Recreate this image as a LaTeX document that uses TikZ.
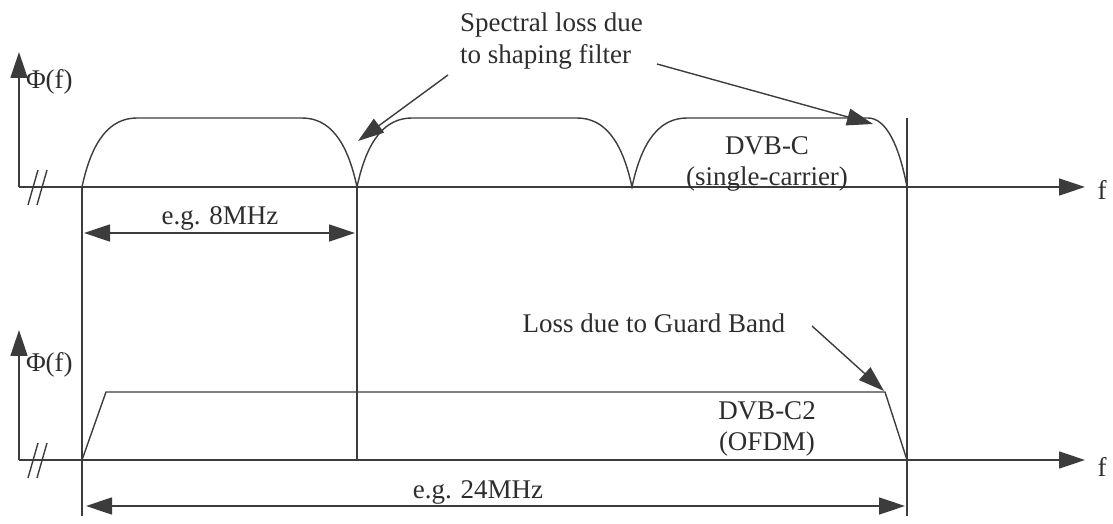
\documentclass[tikz,border=0pt]{standalone}
\usepackage{fontspec}
\setmainfont{Liberation Serif}
\usetikzlibrary{arrows.meta}
\definecolor{pdfcolor1}{RGB}{60,60,60}
\definecolor{pdfcolor2}{RGB}{45,45,45}
\tikzset{
  ln/.style={draw=pdfcolor1,line width=1.4bp},
  bigtip/.style={-{Triangle[length=26bp,width=17bp]}},
  bitip/.style={{Triangle[length=26bp,width=17bp]}-{Triangle[length=26bp,width=17bp]}},
  lbl/.style={font=\fontsize{27bp}{31bp}\selectfont,text=pdfcolor2}
}
\begin{document}
\begin{tikzpicture}[x=1bp,y=-1bp,inner sep=0pt,outer sep=0pt]
  \useasboundingbox (0,0) rectangle (1113,524);
  % upper plot: DVB-C
  \coordinate (o1) at (19,187);
  \coordinate (ytop1) at (19,52);
  \coordinate (xend1) at (1085,187);
  \draw[ln,bigtip] (o1) -- (ytop1);
  \draw[ln,bigtip] (o1) -- (xend1);
  \node[lbl,anchor=west] (phi1) at (26,82) {Φ(f)};
  \node[lbl] (f1) at (1102,190) {f};
  \draw[ln] (28,205) -- (38,170) (37,205) -- (47,170);
  \draw[ln] (82,187) .. controls (92,140) and (110,118) .. (137,118) -- (302,118)
    .. controls (329,118) and (347,140) .. (357,187)
    .. controls (367,140) and (385,118) .. (412,118) -- (577,118)
    .. controls (604,118) and (622,140) .. (632,187)
    .. controls (642,140) and (660,118) .. (687,118) -- (868,118)
    .. controls (886,118) and (899,145) .. (907,187);
  \node[lbl,align=center] (dvbc) at (767,164) {DVB-C\\(single-carrier)};
  % guide lines
  \coordinate (v1t) at (82,187);
  \coordinate (v1b) at (82,516);
  \coordinate (v2t) at (357,187);
  \coordinate (v2b) at (357,460);
  \coordinate (v3t) at (907,118);
  \coordinate (v3b) at (907,516);
  \draw[ln] (v1t) -- (v1b) (v2t) -- (v2b) (v3t) -- (v3b);
  % annotation
  \node[lbl,anchor=west,align=left,font=\fontsize{27bp}{32bp}\selectfont] (note1) at (460,41) {Spectral loss due\\to shaping filter};
  \coordinate (n1s) at (448,75);
  \coordinate (n1e) at (358,141);
  \coordinate (n2s) at (657,64);
  \coordinate (n2e) at (873,124);
  \draw[ln,bigtip] (n1s) -- (n1e);
  \draw[ln,bigtip] (n2s) -- (n2e);
  % 8MHz
  \coordinate (d1a) at (84,233);
  \coordinate (d1b) at (355,233);
  \draw[ln,bitip] (d1a) -- (d1b);
  \node[lbl] (w8) at (220,218) {e.g. 8MHz};
  % lower plot: DVB-C2
  \coordinate (o2) at (19,460);
  \coordinate (ytop2) at (19,330);
  \coordinate (xend2) at (1085,460);
  \draw[ln,bigtip] (o2) -- (ytop2);
  \draw[ln,bigtip] (o2) -- (xend2);
  \node[lbl,anchor=west] (phi2) at (26,365) {Φ(f)};
  \node[lbl] (f2) at (1102,467) {f};
  \draw[ln] (28,478) -- (38,443) (37,478) -- (47,443);
  \draw[ln] (82,460) -- (106,392) -- (885,392) -- (907,460);
  \node[lbl,align=center] (dvbc2) at (767,429) {DVB-C2\\(OFDM)};
  \node[lbl,anchor=east] (gb) at (785,323) {Loss due to Guard Band};
  \coordinate (n3s) at (812,326);
  \coordinate (n3e) at (884,391);
  \draw[ln,bigtip] (n3s) -- (n3e);
  % 24MHz
  \coordinate (d2a) at (86,506);
  \coordinate (d2b) at (905,506);
  \draw[ln,bitip] (d2a) -- (d2b);
  \node[lbl] (w24) at (478,492) {e.g. 24MHz};
\end{tikzpicture}
\end{document}
